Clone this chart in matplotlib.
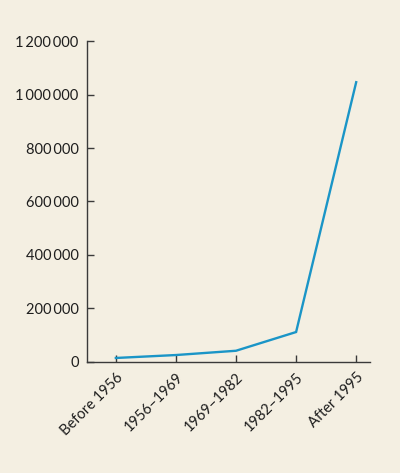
import matplotlib
matplotlib.use('Agg')
import matplotlib.pyplot as plt
from matplotlib.ticker import FuncFormatter

# data
periods = ['Before 1956', '1956–1969', '1969–1982', '1982–1995', 'After 1995']
counts = [15000, 26000, 42000, 112000, 1046000]

bg = '#f4efe2'
line_col = '#1a95c7'
axis_col = '#3a3a3a'

plt.rcParams['font.family'] = ['Lato', 'DejaVu Sans']

fig = plt.figure(figsize=(4, 4.73), dpi=100, facecolor=bg)
ax = fig.add_axes([0.2175, 0.2347, 0.7075, 0.6786])
ax.set_facecolor(bg)

x = list(range(len(periods)))
ax.plot(x, counts, color=line_col, linewidth=1.7, solid_joinstyle='miter')

ax.set_xlim(-0.48, 4.23)
ax.set_ylim(0, 1200000)
ax.set_yticks(range(0, 1200001, 200000))
ax.yaxis.set_major_formatter(FuncFormatter(
    lambda v, p: f'{int(v):,}'.replace(',', '\u2009')))
ax.set_xticks(x)
ax.set_xticklabels(periods, rotation=45, ha='right', rotation_mode='anchor')

for s in ['top', 'right']:
    ax.spines[s].set_visible(False)
for s in ['left', 'bottom']:
    ax.spines[s].set_color(axis_col)
    ax.spines[s].set_linewidth(1.0)

ax.tick_params(axis='both', direction='in', length=5, width=1.0,
               color=axis_col, labelsize=10.5, labelcolor='#1e1e1e')
ax.tick_params(axis='y', pad=6)
ax.tick_params(axis='x', pad=6)

fig.savefig('out.png', dpi=100, facecolor=bg)
